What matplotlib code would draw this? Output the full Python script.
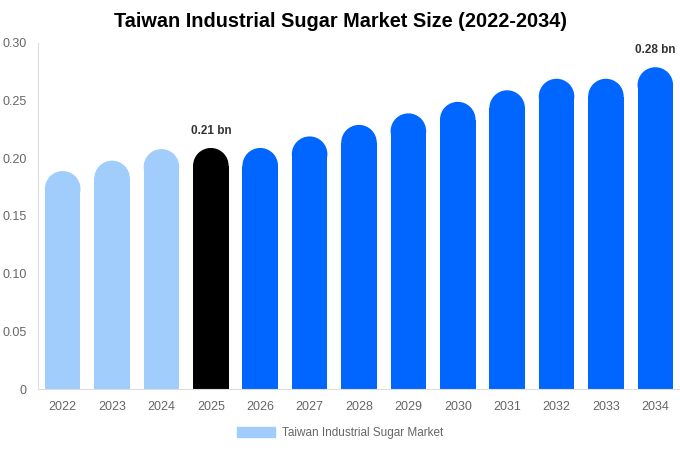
import matplotlib.pyplot as plt
from matplotlib.patches import Ellipse, Patch

plt.rcParams["font.family"] = ["Liberation Sans", "DejaVu Sans"]

years = ["2022", "2023", "2024", "2025", "2026", "2027", "2028",
         "2029", "2030", "2031", "2032", "2033", "2034"]
values = [0.189, 0.198, 0.208, 0.209, 0.209, 0.219, 0.229,
          0.239, 0.249, 0.259, 0.269, 0.269, 0.279]
colors = ["#a0cdfc"] * 3 + ["#000000"] + ["#0066ff"] * 9
labels = {3: "0.21 bn", 12: "0.28 bn"}

fig = plt.figure(figsize=(6.8, 4.5), dpi=100)
ax = fig.add_axes([38 / 680, 61 / 450, 642 / 680, 346 / 450])

ymax = 0.30
ax.set_ylim(0, ymax)
ax.set_xlim(-0.5, len(years) - 0.5)

width = 0.72
ax_w_px = 642
ax_h_px = 346
px_per_x = ax_w_px / len(years)
px_per_y = ax_h_px / ymax
r_px = width * px_per_x / 2
ry = r_px / px_per_y

for i, (v, c) in enumerate(zip(values, colors)):
    ax.bar(i, v - ry, width=width, color=c, linewidth=0)
    ax.add_patch(Ellipse((i, v - ry), width, 2 * ry, color=c, linewidth=0))
    if i in labels:
        ax.text(i, v + 0.0095, labels[i], ha="center", va="bottom",
                fontsize=8.5, fontweight="bold", color="#333333")

ax.set_xticks(range(len(years)))
ax.set_xticklabels(years)
ax.set_yticks([0, 0.05, 0.10, 0.15, 0.20, 0.25, 0.30])
ax.set_yticklabels(["0", "0.05", "0.10", "0.15", "0.20", "0.25", "0.30"])
ax.tick_params(axis="both", length=0, labelsize=9, colors="#666666")
ax.tick_params(axis="x", pad=9)
ax.tick_params(axis="y", pad=8)

for side in ["top", "right"]:
    ax.spines[side].set_visible(False)
ax.spines["left"].set_color("#dddddd")
ax.spines["bottom"].set_color("#dddddd")

fig.text(0.5, 0.953, "Taiwan Industrial Sugar Market Size (2022-2034)",
         ha="center", va="center", fontsize=14.3, fontweight="bold")

fig.legend(handles=[Patch(color="#a0cdfc", label="Taiwan Industrial Sugar Market")],
           loc="center", bbox_to_anchor=(0.5, 0.037), frameon=False,
           fontsize=8.5, handlelength=3.2, handleheight=0.95, handletextpad=0.6,
           labelcolor="#666666")

fig.savefig("out.png", dpi=100)
